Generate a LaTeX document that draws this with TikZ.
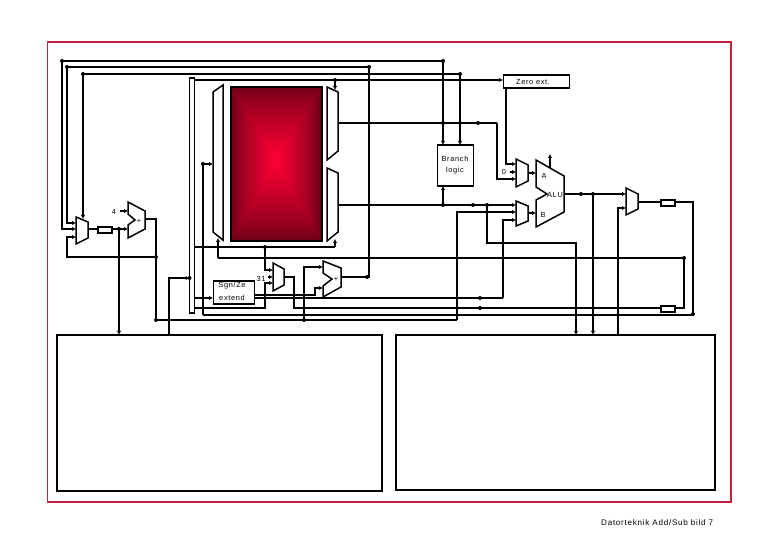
\documentclass[tikz,border=0pt]{standalone}
\usepackage{fontspec}
\setmainfont{Liberation Sans}[LetterSpace=9]
\usetikzlibrary{arrows.meta}
\definecolor{framered}{RGB}{200,30,60}
\tikzset{
  wire/.style={line width=1.5pt,line join=miter,black},
  arr/.style={wire,-{Latex[length=4pt,width=4.4pt]}},
  blockbox/.style={draw=black,line width=1.6pt,fill=white,inner sep=0pt},
  part/.style={draw=black,line width=1.5pt,line join=miter,fill=white},
  lab/.style={font=\fontsize{7.4}{8}\selectfont,inner sep=0pt,black},
}
\begin{document}
\begin{tikzpicture}[x=1pt,y=-1pt]
\useasboundingbox (0,0) rectangle (780,540);
% frame
\draw[framered,line width=1.8pt] (47.5,42) rectangle (731,502);
% register file
\foreach \i in {0,...,45}{
  \pgfmathsetmacro{\f}{\i/45}
  \pgfmathsetmacro{\rr}{110+145*\f^0.8}
  \pgfmathsetmacro{\bb}{22+30*\f^0.8}
  \definecolor{cc}{RGB}{\rr,0,\bb}
  \fill[cc] ({230.5+45.5*\f},{86.5+73*\f}) rectangle ({321.5-45.5*\f},{240.5-81*\f});
}
\node[draw=black,line width=1.6pt,inner sep=0pt,anchor=north west,minimum width=91pt,minimum height=154pt] (regs) at (230.3,86.3) {};

% bottom boxes
\node[blockbox,anchor=north west,minimum width=325pt,minimum height=156pt] (mem1) at (56.3,334.3) {};
\node[blockbox,anchor=north west,minimum width=319pt,minimum height=155pt] (mem2) at (395.3,334.3) {};

% block boxes
\node[blockbox,anchor=north west,minimum width=66pt,minimum height=13pt] (zero) at (502.5,74.5) {};
\node[blockbox,anchor=north west,minimum width=36pt,minimum height=41pt] (branch) at (436.5,144.5) {};
\node[blockbox,anchor=north west,minimum width=41pt,minimum height=23pt] (sign) at (212.5,280.5) {};

% pins
\coordinate (bA) at (443,145);   \coordinate (bB) at (460,145);  \coordinate (bC) at (443,186);
\coordinate (zIn) at (503,80);   \coordinate (zOut) at (506,88);
\coordinate (sIn) at (213,298);  \coordinate (sOutA) at (254,295); \coordinate (sOutB) at (254,298);
\coordinate (pcA) at (76,223);   \coordinate (pcB) at (76,229);  \coordinate (pcC) at (76,237); \coordinate (pcD) at (83,219); \coordinate (pcOut) at (88,229);
\coordinate (addA) at (128,211); \coordinate (addB) at (128,229); \coordinate (addOut) at (145,219);
\coordinate (lmSel) at (213,164); \coordinate (lmBot) at (218,238);
\coordinate (rmTop) at (335,90); \coordinate (rmBot) at (335,239);
\coordinate (rmOutA) at (338,123); \coordinate (rmOutB) at (338,205);
\coordinate (amA) at (516,164);  \coordinate (amB) at (516,172); \coordinate (amBs) at (510,172); \coordinate (amC) at (516,179); \coordinate (amOut) at (528,173);
\coordinate (bmA) at (516,205);  \coordinate (bmB) at (516,212); \coordinate (bmC) at (516,220); \coordinate (bmOut) at (528,213);
\coordinate (aluA) at (536,173); \coordinate (aluB) at (536,213); \coordinate (aluOut) at (564,194); \coordinate (aluTop) at (550,154); \coordinate (aluTopS) at (550,168);
\coordinate (wmA) at (626,194);  \coordinate (wmB) at (626,208); \coordinate (wmOut) at (638,202);
\coordinate (tmA) at (273,270);  \coordinate (tmB) at (273,277); \coordinate (tmC) at (273,283); \coordinate (tmOut) at (284,277);
\coordinate (ubA) at (323,267);  \coordinate (ubB) at (323,288); \coordinate (ubOut) at (341,277);
\coordinate (m1a) at (119,335);  \coordinate (m1b) at (169,335);
\coordinate (m2a) at (576,335);  \coordinate (m2b) at (593,335); \coordinate (m2c) at (618,335);
\coordinate (r1W) at (97,229);   \coordinate (r1E) at (111,229);
\coordinate (r2W) at (660,202);  \coordinate (r2E) at (674,202);
\coordinate (r3W) at (660,308);  \coordinate (r3E) at (674,308);
\coordinate (four) at (120,211);
\coordinate (thirtyone) at (267.5,277);

% wires
\draw[arr] (62,61) -- (443,61) -- (bA);
\draw[arr] (62,61) -- (62,229) -- (pcB);
\draw[wire] (ubOut) -- (369,277) -- (369,67) -- (67,67);
\draw[arr] (67,67) |- (pcA);
\draw[arr] (83,74) -- (pcD);
\draw[arr] (83,74) -- (460,74) -- (bB);
\draw[arr] (195,80) -- (zIn);
\draw[wire] (189.5,78) rectangle (194.5,313);
\draw[arr] (m1b) -- (169,278) -- (189.5,278);
\draw[arr] (335,80) -- (rmTop);
\draw[wire] (194.5,247) -- (335,247);
\draw[arr] (335,247) -- (rmBot);
\draw[arr] (203,315) -- (203,164) -- (lmSel);
\draw[wire] (203,315) -- (693,315) -- (693,202) -- (r2E);
\draw[arr] (218,258) -- (lmBot);
\draw[wire] (218,258) -- (684,258) -- (684,308) -- (r3E);
\draw[wire] (rmOutA) -- (497,123);
\draw[arr] (497,123) -- (497,179) -- (amC);
\draw[arr] (rmOutB) -- (bmA);
\draw[arr] (443,205) -- (bC);
\draw[arr] (zOut) -- (506,164) -- (amA);
\draw[arr] (amBs) -- (amB);
\draw[arr] (457,320) -- (457,212) -- (bmB);
\draw[arr] (503,298) -- (503,220) -- (bmC);
\draw[arr] (487,205) -- (487,243) -- (576,243) -- (m2a);
\draw[wire] (sOutB) -- (503,298);
\draw[arr] (sOutA) -- (315,295) -- (315,288) -- (ubB);
\draw[arr] (amOut) -- (aluA);
\draw[arr] (bmOut) -- (aluB);
\draw[arr] (aluTopS) -- (aluTop);
\draw[arr] (aluOut) -- (wmA);
\draw[arr] (593,194) -- (m2b);
\draw[arr] (m2c) -- (618,208) -- (wmB);
\draw[wire] (wmOut) -- (r2W);
\draw[wire] (pcOut) -- (r1W);
\draw[arr] (r1E) -- (addB);
\draw[arr] (119,229) -- (m1a);
\draw[arr] (four) -- (addA);
\draw[wire] (addOut) -- (156,219) -- (156,320) -- (457,320);
\draw[arr] (156,257) -- (67,257) -- (67,237) -- (pcC);
\draw[arr] (194.5,298) -- (sIn);
\draw[arr] (265,247) -- (265,270) -- (tmA);
\draw[arr] (194.5,308) -- (265,308) -- (265,283) -- (tmC);
\draw[arr] (thirtyone) -- (tmB);
\draw[wire] (tmOut) -- (294,277) -- (294,308) -- (r3W);
\draw[arr] (304,320) -- (304,267) -- (ubA);

% dots
\foreach \p in {(62,61),(67,67),(83,74),(203,164),(335,80),(369,67),(443,61),(460,74),(443,123),(478,123),(443,205),(473,205),(487,205),(581,194),(593,194),(156,257),(119,229),(265,247),(304,320),(367,277),(480,298),(480,308),(684,258),(693,314),(156,320),(189.5,278)}{
  \fill[black] \p circle (2pt);
}

% parts
\draw[part] (213,92) -- (223,85) -- (223,240) -- (213,232) -- cycle;
\draw[part] (327,87) -- (338,92) -- (338,151) -- (327,160) -- cycle;
\draw[part] (327,168) -- (338,173) -- (338,232) -- (327,241) -- cycle;
\draw[part] (76,217) -- (88,222) -- (88,238) -- (76,244) -- cycle;
\draw[part] (516,159) -- (528,165) -- (528,181) -- (516,187) -- cycle;
\draw[part] (516,201) -- (528,206) -- (528,221) -- (516,226) -- cycle;
\draw[part] (626,188) -- (638,194) -- (638,209) -- (626,215) -- cycle;
\draw[part] (273,263) -- (284,269) -- (284,285) -- (273,291) -- cycle;
\draw[part] (128,202) -- (145,211) -- (145,229) -- (128,238) -- (128,225) -- (135,220) -- (128,214) -- cycle;
\draw[part] (323,261) -- (341,268) -- (341,287) -- (323,297) -- (323,286) -- (332,279) -- (323,273) -- cycle;
\draw[part] (536,160) -- (564,176) -- (564,212) -- (536,227) -- (536,200) -- (547,194) -- (536,187) -- cycle;

% pipeline registers
\node[blockbox,anchor=north west,minimum width=14pt,minimum height=6pt] (r1) at (97,226) {};
\node[blockbox,anchor=north west,minimum width=14pt,minimum height=6pt] (r2) at (660,199) {};
\node[blockbox,anchor=north west,minimum width=14pt,minimum height=6pt] (r3) at (660,305) {};

% labels
\node[lab] (tz) at (533,81.5) {Zero ext.};
\node[lab] (tb1) at (455,159) {Branch};
\node[lab] (tb2) at (455,171) {logic};
\node[lab] (ts1) at (232,285.5) {Sgn/Ze};
\node[lab] (ts2) at (232,298) {extend};
\node[lab] (t0) at (504,172) {0};
\node[lab] (tA) at (544,176) {A};
\node[lab] (tB) at (543,215) {B};
\node[lab] (tALU) at (555,195) {ALU};
\node[lab] (t4) at (114,212) {4};
\node[lab] (tp1) at (139,221) {+};
\node[lab] (tp2) at (336,279) {+};
\node[lab] (t31) at (261,279) {31};
\node[lab,anchor=west,font=\fontsize{8.1}{9}\selectfont] (tf) at (601,523) {Datorteknik Add/Sub bild 7};
\end{tikzpicture}
\end{document}
